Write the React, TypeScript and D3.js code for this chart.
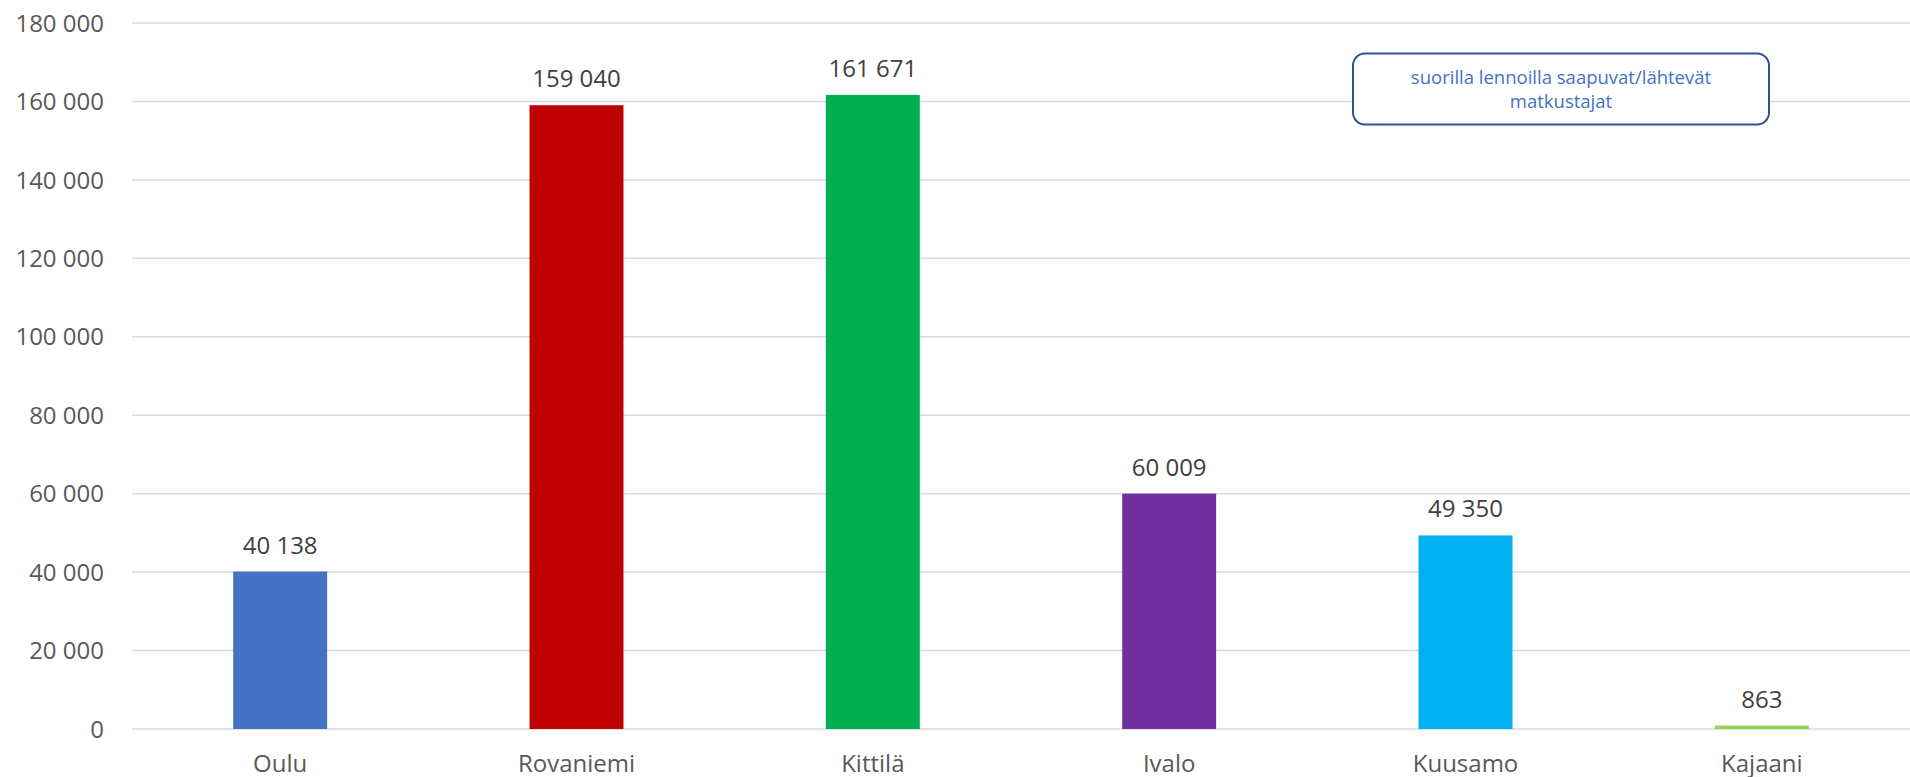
import React, { useEffect } from "react";
import * as d3 from "d3";

const categories = ["Oulu", "Rovaniemi", "Kittilä", "Ivalo", "Kuusamo", "Kajaani"];
const values = [40138, 159040, 161671, 60009, 49350, 863];
const colors = ["#4472C4", "#C00000", "#00B050", "#7030A0", "#00B0F0", "#92D050"];
const yTicks = [0, 20000, 40000, 60000, 80000, 100000, 120000, 140000, 160000, 180000];
const noteLines = ["suorilla lennoilla saapuvat/lähtevät", "matkustajat"];

const W = 1910;
const H = 777;
const FONT = "'Open Sans', 'Noto Sans', sans-serif";

const fmt = (v: number) => {
  const s = String(v);
  return s.replace(/\B(?=(\d{3})+(?!\d))/g, " ");
};

export default function App() {
  useEffect(() => {
    document.body.style.margin = "0";
    document.body.style.overflow = "hidden";
  }, []);

  const x = d3
    .scaleBand<string>()
    .domain(categories)
    .range([132, 1910])
    .paddingInner(0.683)
    .paddingOuter(0.683 / 2);
  const y = d3.scaleLinear().domain([0, 180000]).range([729, 23]);

  return (
    <svg width={W} height={H} style={{ position: "absolute", left: 0, top: 0, background: "#fff" }}>
      <rect x={0} y={0} width={W} height={H} fill="#ffffff" />
      {yTicks.map((t) => (
        <g key={t}>
          <line x1={132} x2={1910} y1={y(t)} y2={y(t)} stroke="#d9d9d9" strokeWidth={1.5} />
          <text
            x={104}
            y={y(t)}
            dy="0.36em"
            textAnchor="end"
            fontFamily={FONT}
            fontSize={24}
            fill="#595959"
          >
            {fmt(t)}
          </text>
        </g>
      ))}
      {categories.map((c, i) => {
        const bx = x(c) as number;
        const bw = x.bandwidth();
        const top = y(values[i]);
        return (
          <g key={c}>
            <rect x={bx} y={top} width={bw} height={y(0) - top} fill={colors[i]} />
            <text
              x={bx + bw / 2}
              y={top - 18}
              textAnchor="middle"
              fontFamily={FONT}
              fontSize={24}
              fill="#404040"
            >
              {fmt(values[i])}
            </text>
            <text
              x={bx + bw / 2}
              y={772}
              textAnchor="middle"
              fontFamily={FONT}
              fontSize={24}
              fill="#595959"
            >
              {c}
            </text>
          </g>
        );
      })}
      <rect
        x={1353}
        y={53.5}
        width={416}
        height={71}
        rx={12}
        ry={12}
        fill="#ffffff"
        stroke="#2F528F"
        strokeWidth={2}
      />
      {noteLines.map((l, i) => (
        <text
          key={i}
          x={1561}
          y={84 + i * 24}
          textAnchor="middle"
          fontFamily={FONT}
          fontSize={18.5}
          fill="#4472C4"
        >
          {l}
        </text>
      ))}
    </svg>
  );
}
